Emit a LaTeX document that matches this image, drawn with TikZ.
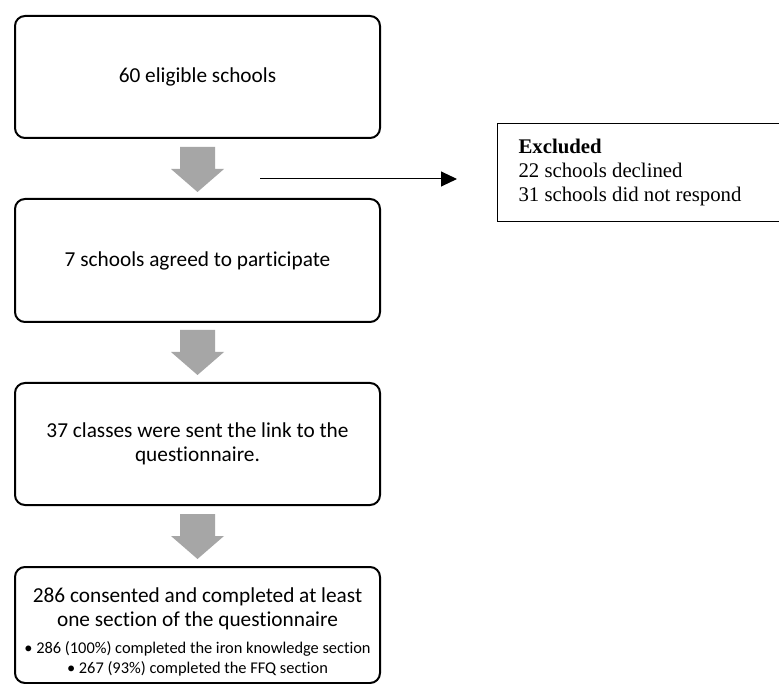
\documentclass[tikz,border=0pt]{standalone}
\usepackage{fontspec}
\setmainfont{Carlito}[Ligatures={NoCommon}]
\newfontfamily\tnr{Liberation Serif}
\usetikzlibrary{arrows.meta,calc}
\definecolor{arrowgray}{RGB}{166,166,166}
\tikzset{
  stagebox/.style={draw=black, line width=2pt, rounded corners=10pt,
    minimum width=365pt, align=flush center, inner sep=0pt,
    font=\fontsize{21.3}{24}\selectfont},
  exclbox/.style={draw=black, line width=1pt, anchor=north west,
    minimum height=98pt, text width=300pt, inner xsep=21pt, inner ysep=0pt,
    align=flush left, font=\tnr\fontsize{20.8}{24}\selectfont},
  bigarrow/.style={fill=arrowgray, draw=none},
  thinarrow/.style={line width=1pt, -{Triangle[length=16pt,width=15pt]}}
}
\newcommand{\grayarrow}[1]{%
  \fill[bigarrow] ($(#1)+(-17.5,0)$) -- ($(#1)+(17.5,0)$) -- ($(#1)+(17.5,22)$)
   -- ($(#1)+(26.5,22)$) -- ($(#1)+(0,45)$) -- ($(#1)+(-26.5,22)$)
   -- ($(#1)+(-17.5,22)$) -- cycle;}
\begin{document}
\begin{tikzpicture}[x=1pt,y=-1pt]
\clip (0,0) rectangle (779,684);
\fill[white] (0,0) rectangle (779,684);

\node[stagebox, minimum height=122pt] (b1) at (197.5,77) {60 eligible schools};
\node[stagebox, minimum height=123pt] (b2) at (197.5,260.5) {7 schools agreed to participate};
\node[stagebox, minimum height=122pt] (b3) at (197.5,444) {37 classes were sent the link to the\\questionnaire.};
\node[stagebox, minimum height=116pt, text width=360pt] (b4) at (197.5,625)
  {\rule{0pt}{29pt}286 consented and completed at least\\one section of the questionnaire\par\vspace{7pt}%
   \fontsize{16.4}{20}\selectfont • 286 (100\%) completed the iron knowledge section\\
   • 267 (93\%) completed the FFQ section\par};

\node[exclbox] (ex) at (497,123) {\textbf{Excluded}\\22 schools declined\\31 schools did not respond};

\coordinate (a1) at ($(b1.south)+(0,8)$);
\coordinate (a2) at ($(b2.south)+(0,7)$);
\coordinate (a3) at ($(b3.south)+(0,8)$);
\grayarrow{a1}
\grayarrow{a2}
\grayarrow{a3}

\coordinate (t1) at (260,179);
\coordinate (t2) at (457,179);
\draw[thinarrow] (t1) -- (t2);
\end{tikzpicture}
\end{document}
